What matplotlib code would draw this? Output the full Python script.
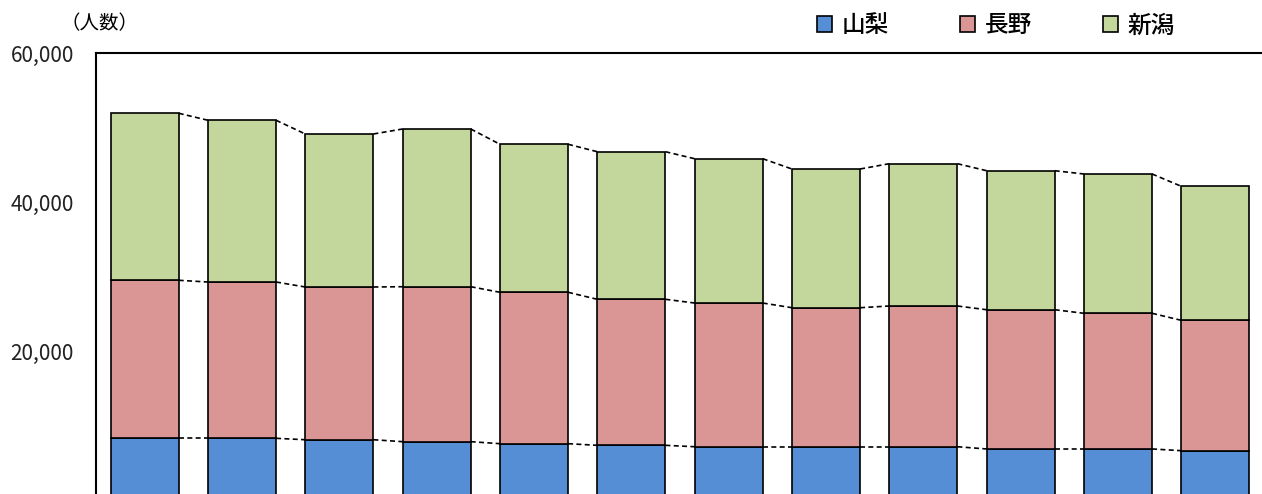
import matplotlib
matplotlib.use("Agg")
import matplotlib.pyplot as plt
import numpy as np

plt.rcParams['font.family'] = ['Noto Sans CJK JP', 'DejaVu Sans']

# years (axis labels are cut off in the reference, so they are not drawn)
years = ['2008', '2009', '2010', '2011', '2012', '2013',
         '2014', '2015', '2016', '2017', '2018', '2019']
yamanashi = [8280, 8280, 8090, 7830, 7560, 7340, 7150, 7150, 7150, 6850, 6850, 6620]
nagano = [21210, 20980, 20500, 20800, 20320, 19600, 19290, 18660, 18890, 18690, 18210, 17500]
niigata = [22420, 21710, 20540, 21170, 19870, 19810, 19370, 18620, 19100, 18660, 18700, 17990]
names = ['山梨', '長野', '新潟']
colors = ['#558ED5', '#D99694', '#C3D69B']

W, H = 1262, 494
fig = plt.figure(figsize=(W / 100, H / 100), dpi=100)
# plot area runs below the bottom of the picture, as in the reference
ax = fig.add_axes([96 / W, (494 - 500) / H, (1264 - 96) / W, 447 / H])

x = np.arange(len(years))
width = 0.70
bottom = np.zeros(len(years))
for vals, name, col in zip([yamanashi, nagano, niigata], names, colors):
    vals = np.array(vals)
    ax.bar(x, vals, width, bottom=bottom, color=col, edgecolor='black',
           linewidth=1.2, label=name, zorder=3)
    top = bottom + vals
    # dashed series lines between neighbouring bars
    for i in range(len(x) - 1):
        ax.plot([x[i] + width / 2, x[i + 1] - width / 2], [top[i], top[i + 1]],
                color='black', linestyle=(0, (3, 2)), linewidth=1.2, zorder=2)
    bottom = top

ax.set_xlim(-0.5, len(years) - 0.5)
ax.set_ylim(0, 60000)
ax.set_yticks([20000, 40000, 60000])
ax.set_yticklabels(['20,000', '40,000', '60,000'])
ax.set_xticks(x)
ax.tick_params(axis='y', length=0, pad=16, labelsize=15, colors='#222222')
ax.tick_params(axis='x', length=0, labelbottom=False)
for s in ax.spines.values():
    s.set_linewidth(1.5)
    s.set_color('black')

fig.text(60 / W, 1 - 24 / H, '（人数）', fontsize=14, va='center', ha='left')

fig.legend(loc='center right', bbox_to_anchor=(1196 / W, 1 - 26 / H), ncol=3,
           frameon=False, handlelength=0.65, handleheight=0.65,
           handletextpad=0.4, columnspacing=3.0,
           prop={'size': 17, 'weight': 'medium'})

fig.savefig('out.png', dpi=100)
